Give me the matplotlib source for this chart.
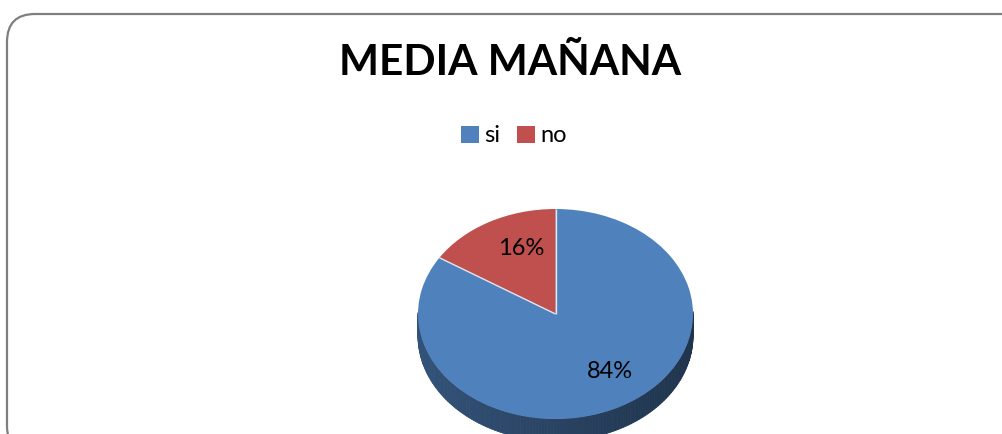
import numpy as np
import matplotlib
matplotlib.use('Agg')
import matplotlib.pyplot as plt
from matplotlib.patches import FancyBboxPatch, Polygon
import matplotlib.colors as mcolors

plt.rcParams['font.family'] = ['Lato', 'DejaVu Sans']

# data
labels = ['si', 'no']
values = [84, 16]
colors = ['#4F81BD', '#C0504D']
title = 'MEDIA MAÑANA'

W, H = 1002, 434
fig = plt.figure(figsize=(W / 100, H / 100), dpi=100)

# background axes in pixel coords for the rounded frame
bg = fig.add_axes([0, 0, 1, 1])
bg.set_xlim(0, W)
bg.set_ylim(H, 0)
bg.axis('off')
frame = FancyBboxPatch((7, 14), 1030, 440, boxstyle='round,pad=0,rounding_size=28',
                       facecolor='white', edgecolor='#7f7f7f', linewidth=1.6)
bg.add_patch(frame)

# pie axes: unit circle stretched into the ellipse of the top surface
cx, cy, rx, ry = 555.5, 314, 137.5, 105
ax = fig.add_axes([(cx - rx) / W, (H - cy - ry) / H, 2 * rx / W, 2 * ry / H])
depth = 22 / ry

# side of the 3D pie (front half), shaded by angle
start = 90
fracs = np.array(values) / sum(values)
bounds = start - 360 * np.concatenate([[0], np.cumsum(fracs)])
for i, col in enumerate(colors):
    a0, a1 = bounds[i + 1], bounds[i]
    angs = np.linspace(a0, a1, 240)
    base = np.array(mcolors.to_rgb(col))
    for t0, t1 in zip(angs[:-1], angs[1:]):
        tm = np.deg2rad((t0 + t1) / 2)
        if np.sin(tm) > 0.02:
            continue
        th = np.deg2rad([t0, t1])
        # darker towards the right, lighter on the left
        k = 0.64 - 0.24 * (np.cos(tm) + 1) / 2
        c = base * k
        pts = [(np.cos(th[0]), np.sin(th[0])), (np.cos(th[1]), np.sin(th[1])),
               (np.cos(th[1]), np.sin(th[1]) - depth), (np.cos(th[0]), np.sin(th[0]) - depth)]
        ax.add_patch(Polygon(pts, closed=True, facecolor=c, edgecolor=c, linewidth=0.6,
                             clip_on=False))

wedges, texts, autotexts = ax.pie(values, colors=colors, startangle=start, counterclock=False,
                                  autopct='%1.0f%%', pctdistance=0.67, radius=1,
                                  wedgeprops=dict(linewidth=0),
                                  textprops=dict(fontsize=17, color='black'))
for w in wedges:
    w.set_clip_on(False)
for b in bounds[:-1]:
    r = np.deg2rad(b)
    ax.plot([0, np.cos(r)], [0, np.sin(r)], color='#dfe6ef', linewidth=1.0, solid_capstyle='butt')
ax.set_aspect('auto')
ax.set_xlim(-1, 1)
ax.set_ylim(-1, 1)
ax.axis('off')

# Excel's labels sit slightly right of and above the plain pie positions
for t in autotexts:
    x, y = t.get_position()
    t.set_position((x + 0.07, y + 0.04))

fig.text(510 / W, 1 - 63 / H, title, ha='center', va='center', fontsize=30.5, fontweight='bold')

fig.legend(wedges, labels, loc='center', bbox_to_anchor=(514 / W, 1 - 136 / H), ncol=2,
           frameon=False, fontsize=17, handlelength=0.75, handleheight=0.75,
           handletextpad=0.25, columnspacing=0.7, borderpad=0)

fig.savefig('out.png', dpi=100)
